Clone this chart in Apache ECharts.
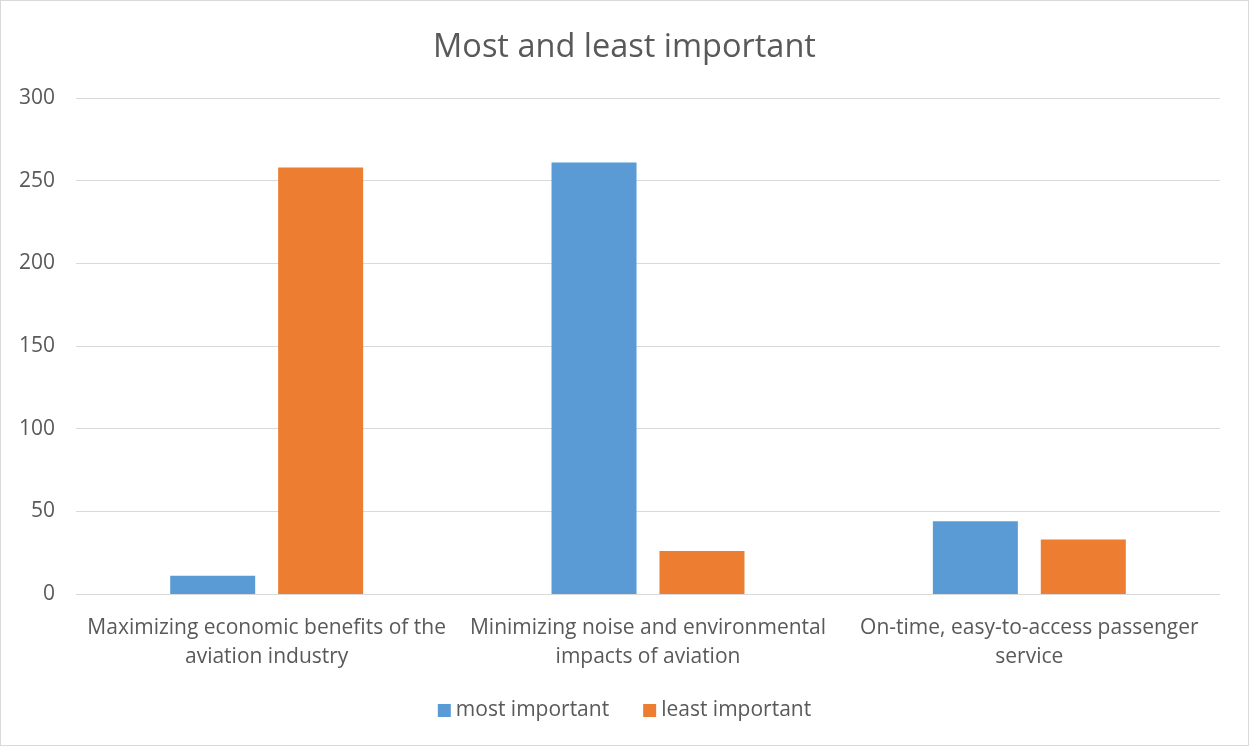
<!DOCTYPE html>
<html>
<head>
<meta charset="utf-8">
<script src="https://cdn.jsdelivr.net/npm/echarts@6/dist/echarts.min.js"></script>
<style>
html, body { margin: 0; padding: 0; background: #fff; }
#chart { width: 1247px; height: 744px; border: 1px solid #d9d9d9; }
</style>
</head>
<body>
<div id="chart"></div>
<script>
// data
var categories = [
    'Maximizing economic benefits of the\naviation industry',
    'Minimizing noise and environmental\nimpacts of aviation',
    'On-time, easy-to-access passenger\nservice'
];
var mostImportant = [11, 261, 44];
var leastImportant = [258, 26, 33];
var yTicks = [0, 50, 100, 150, 200, 250, 300];

var chart = echarts.init(document.getElementById('chart'));
var font = '"Open Sans", sans-serif';

var option = {
    animation: false,
    title: {
        text: 'Most and least important',
        left: 'center',
        top: 25,
        textStyle: { color: '#595959', fontSize: 32.5, fontWeight: 'normal', fontFamily: font }
    },
    grid: { left: 75, right: 28, top: 97, bottom: 151 },
    legend: {
        bottom: 19,
        left: 'center',
        itemWidth: 13,
        itemHeight: 13,
        itemGap: 34,
        itemStyle: { borderWidth: 0 },
        icon: 'rect',
        textStyle: { color: '#595959', fontSize: 21, fontFamily: font },
        data: ['most important', 'least important']
    },
    xAxis: {
        type: 'category',
        data: categories,
        axisTick: { show: false },
        axisLine: { lineStyle: { color: '#d9d9d9', width: 1 } },
        axisLabel: { color: '#595959', fontSize: 21, fontFamily: font, margin: 20, lineHeight: 29, interval: 0 }
    },
    yAxis: {
        type: 'value',
        min: yTicks[0],
        max: yTicks[yTicks.length - 1],
        interval: 50,
        axisLine: { show: false },
        axisTick: { show: false },
        splitLine: { lineStyle: { color: '#d9d9d9', width: 1 } },
        axisLabel: { color: '#595959', fontSize: 21, fontFamily: font, margin: 21 }
    },
    series: [
        {
            name: 'most important',
            type: 'bar',
            data: mostImportant,
            barWidth: 85,
            barGap: '27%',
            itemStyle: { color: '#5b9bd5' }
        },
        {
            name: 'least important',
            type: 'bar',
            data: leastImportant,
            barWidth: 85,
            barGap: '27%',
            itemStyle: { color: '#ed7d31' }
        }
    ]
};
chart.setOption(option);
</script>
</body>
</html>
